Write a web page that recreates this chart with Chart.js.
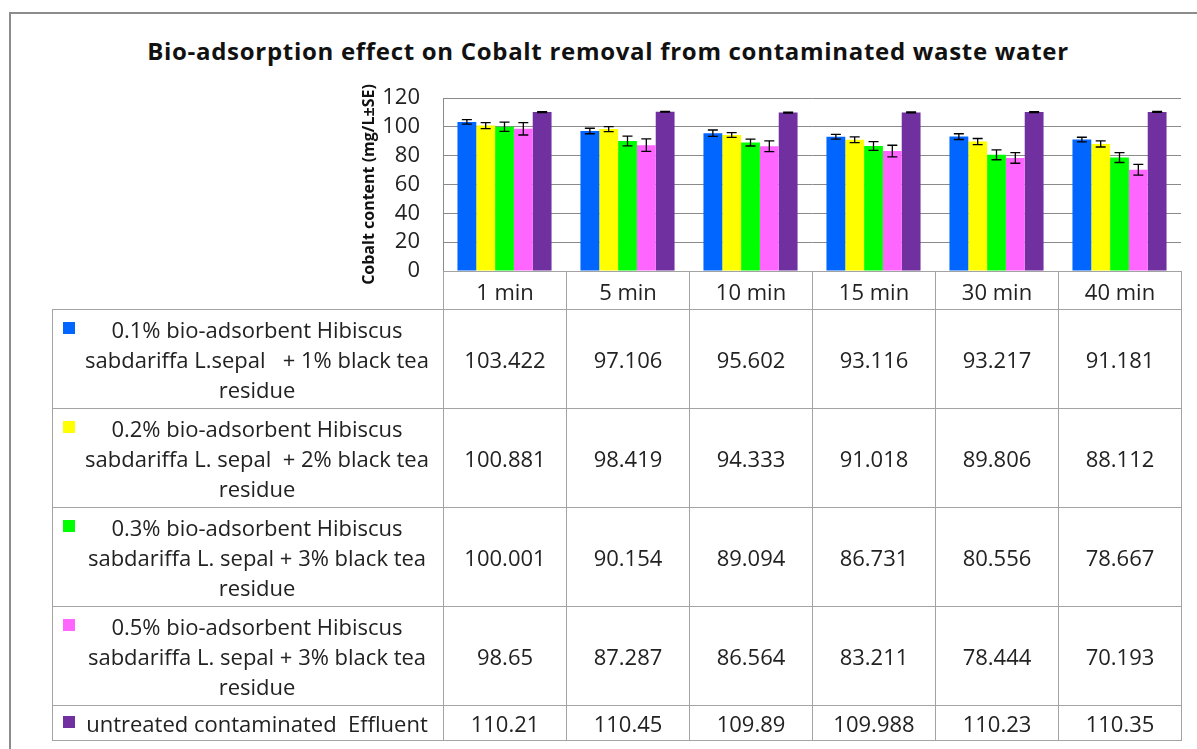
<!DOCTYPE html>
<html>
<head>
<meta charset="utf-8">
<script src="https://cdn.jsdelivr.net/npm/chart.js@4/dist/chart.umd.min.js"></script>
<style>
	html, body { margin: 0; padding: 0; width: 1197px; height: 749px; overflow: hidden; background: #fff; }
	#frame { position: absolute; left: 9px; top: 12px; width: 1200px; height: 760px; border: 2px solid #8c8c8c; box-sizing: border-box; }
	#chartTitle { position: absolute; left: 9px; width: 1198px; top: 34px; line-height: 32px; text-align: center;
		font: bold 24px "Open Sans", sans-serif; letter-spacing: 0.7px; color: #111; }
	#cv { position: absolute; left: 0; top: 0; }
	#dataTable { position: absolute; border-collapse: collapse; table-layout: fixed; font: 22px "Open Sans", sans-serif; color: #222; }
	#dataTable td { border: 1px solid #a3a3a3; text-align: center; vertical-align: middle; padding: 0; }
	#dataTable td.blank { border: none; }
	#dataTable td.name { position: relative; padding-left: 24px; padding-right: 6px; }
	.nameText { position: relative; white-space: pre; line-height: 30px; }
	.key { position: absolute; left: -14px; top: 8px; width: 12px; height: 12px; }
</style>
</head>
<body>
<div id="frame"></div>
<div id="chartTitle">Bio-adsorption effect on Cobalt removal from contaminated waste water</div>
<canvas id="cv" width="1197" height="749"></canvas>
<table id="dataTable"></table>
<script>
var timeLabels = ["1 min", "5 min", "10 min", "15 min", "30 min", "40 min"];

var seriesNames = [
	["0.1% bio-adsorbent Hibiscus", "sabdariffa L.sepal   + 1% black tea", "residue"],
	["0.2% bio-adsorbent Hibiscus", "sabdariffa L. sepal  + 2% black tea", "residue"],
	["0.3% bio-adsorbent Hibiscus", "sabdariffa L. sepal + 3% black tea", "residue"],
	["0.5% bio-adsorbent Hibiscus", "sabdariffa L. sepal + 3% black tea", "residue"],
	["untreated contaminated  Effluent"]
];
var seriesColors = ["#0066ff", "#ffff00", "#00ff00", "#ff66ff", "#7030a0"];

var dose01 = [103.422, 97.106, 95.602, 93.116, 93.217, 91.181];
var dose02 = [100.881, 98.419, 94.333, 91.018, 89.806, 88.112];
var dose03 = [100.001, 90.154, 89.094, 86.731, 80.556, 78.667];
var dose05 = [98.65, 87.287, 86.564, 83.211, 78.444, 70.193];
var untreated = [110.21, 110.45, 109.89, 109.988, 110.23, 110.35];

// standard errors
var se01 = [1.6, 1.9, 2.2, 1.7, 2.0, 1.6];
var se02 = [2.1, 1.7, 1.7, 2.0, 2.1, 2.1];
var se03 = [3.2, 3.4, 2.4, 3.0, 3.4, 3.4];
var se05 = [4.3, 4.3, 3.7, 4.0, 3.7, 3.7];
var seUntreated = [0.3, 0.3, 0.3, 0.3, 0.3, 0.3];

var yTicks = [0, 20, 40, 60, 80, 100, 120];

var allValues = [dose01, dose02, dose03, dose05, untreated];
var allErrors = [se01, se02, se03, se05, seUntreated];

var datasets = [];
for (var i = 0; i < allValues.length; i++) {
	datasets.push({
		label: seriesNames[i].join(" "),
		data: allValues[i],
		errors: allErrors[i],
		backgroundColor: seriesColors[i],
		borderWidth: 0,
		categoryPercentage: 0.765,
		barPercentage: 1.0
	});
}

var errorBars = {
	id: "errorBars",
	afterDatasetsDraw: function(chart) {
		var ctx = chart.ctx;
		var y = chart.scales.y;
		ctx.save();
		ctx.strokeStyle = "#000";
		ctx.lineWidth = 1.3;
		chart.data.datasets.forEach(function(ds, i) {
			var meta = chart.getDatasetMeta(i);
			meta.data.forEach(function(bar, j) {
				var v = ds.data[j], e = ds.errors[j];
				var top = y.getPixelForValue(v + e);
				var bot = y.getPixelForValue(v - e);
				ctx.beginPath();
				ctx.moveTo(bar.x, top); ctx.lineTo(bar.x, bot);
				ctx.moveTo(bar.x - 5, top); ctx.lineTo(bar.x + 5, top);
				ctx.moveTo(bar.x - 5, bot); ctx.lineTo(bar.x + 5, bot);
				ctx.stroke();
			});
		});
		ctx.restore();
	}
};

var chart = new Chart(document.getElementById("cv"), {
	type: "bar",
	data: { labels: timeLabels, datasets: datasets },
	options: {
		responsive: false,
		animation: false,
		layout: { padding: { left: 358, right: 16, top: 98, bottom: 478 } },
		plugins: { legend: { display: false }, title: { display: false }, tooltip: { enabled: false } },
		scales: {
			x: { display: false },
			y: {
				min: 0, max: 120,
				afterFit: function(scale) { scale.width = 85; },
				afterBuildTicks: function(scale) { scale.ticks = yTicks.map(function(v) { return { value: v }; }); },
				ticks: { padding: 23, autoSkip: false, color: "#222", font: { family: "Open Sans", size: 22 } },
				grid: { color: "#8a8a8a", drawTicks: false },
				border: { display: true, color: "#8a8a8a" },
				title: {
					display: true,
					text: "Cobalt content (mg/L\u00b1SE)",
					color: "#111",
					padding: { top: 2, bottom: 2 },
					font: { family: "Open Sans", size: 16, weight: "bold" }
				}
			}
		}
	},
	plugins: [errorBars]
});

function buildTable() {
	var area = chart.chartArea;
	var table = document.getElementById("dataTable");
	var colW = (area.right - area.left) / timeLabels.length;
	var nameW = area.left - 52;
	table.style.left = "52px";
	table.style.top = area.bottom + "px";
	table.style.width = (nameW + colW * timeLabels.length) + "px";

	var html = "<colgroup><col style='width:" + nameW + "px'>";
	for (var c = 0; c < timeLabels.length; c++) html += "<col style='width:" + colW + "px'>";
	html += "</colgroup>";

	html += "<tr style='height:38px'><td class='blank'></td>";
	for (var c = 0; c < timeLabels.length; c++) html += "<td>" + timeLabels[c] + "</td>";
	html += "</tr>";

	for (var r = 0; r < allValues.length; r++) {
		var h = seriesNames[r].length > 1 ? 99 : 35;
		html += "<tr style='height:" + h + "px'><td class='name'><div class='nameText'>" +
			"<span class='key' style='background:" + seriesColors[r] + "'></span>" +
			seriesNames[r].join("\n") + "</div></td>";
		for (var c = 0; c < timeLabels.length; c++) html += "<td>" + String(allValues[r][c]) + "</td>";
		html += "</tr>";
	}
	table.innerHTML = html;
}
buildTable();
</script>
</body>
</html>
